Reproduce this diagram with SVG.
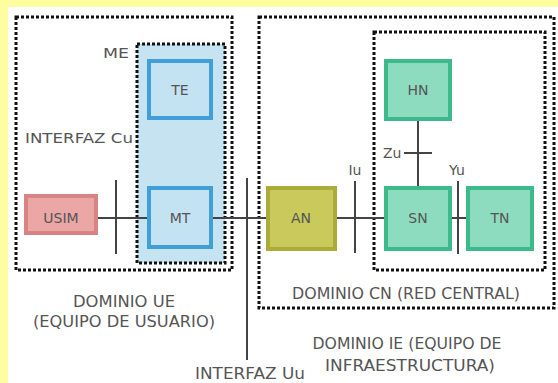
<svg xmlns="http://www.w3.org/2000/svg" width="558" height="383" viewBox="0 0 558 383">
<defs>
<style>
text{font-family:"DejaVu Sans","Liberation Sans",sans-serif;fill:#555;font-size:14px}
.big{font-size:15px}
.lbl{text-anchor:middle}
.dot{fill:none;stroke:#111;stroke-width:3;stroke-dasharray:3 2}
.blue{fill:#c3e2f2;stroke:#3f9fd6;stroke-width:4}
.red{fill:#eba6a6;stroke:#d98484;stroke-width:4}
.olive{fill:#c9c95c;stroke:#abab3a;stroke-width:4}
.teal{fill:#8edcc0;stroke:#3cba8c;stroke-width:4}
.ln{stroke:#444;stroke-width:2;fill:none}
</style>
</defs>
<rect x="0" y="0" width="558" height="383" fill="#fefea0"/>
<rect x="8" y="7" width="550" height="376" fill="#ffffff"/>
<g id="dominio-ue">
<rect class="dot" x="16" y="17" width="216" height="253"/>
<text class="lbl big" x="124" y="307" textLength="102" lengthAdjust="spacingAndGlyphs">DOMINIO UE</text>
<text class="lbl big" x="124" y="327" textLength="182" lengthAdjust="spacingAndGlyphs">(EQUIPO DE USUARIO)</text>
</g>
<g id="me">
<rect x="137" y="44" width="88" height="219" fill="#c5e3f1"/>
<rect class="dot" x="137" y="44" width="88" height="219"/>
<text x="129" y="58" text-anchor="end" textLength="26" lengthAdjust="spacingAndGlyphs">ME</text>
</g>
<g id="dominio-ie">
<rect class="dot" x="259" y="17" width="295" height="291"/>
<text class="lbl big" x="407" y="349" textLength="189" lengthAdjust="spacingAndGlyphs">DOMINIO IE (EQUIPO DE</text>
<text class="lbl big" x="410" y="371" textLength="170" lengthAdjust="spacingAndGlyphs">INFRAESTRUCTURA)</text>
</g>
<g id="dominio-cn">
<rect class="dot" x="374" y="32" width="171" height="238"/>
<text class="lbl big" x="406" y="299" textLength="228" lengthAdjust="spacingAndGlyphs">DOMINIO CN (RED CENTRAL)</text>
</g>
<g id="connectors">
<line class="ln" x1="97" y1="218" x2="148" y2="218"/>
<line class="ln" x1="212" y1="218" x2="267" y2="218"/>
<line class="ln" x1="336" y1="218" x2="385" y2="218"/>
<line class="ln" x1="451" y1="218" x2="467" y2="218"/>
<line class="ln" x1="418" y1="120" x2="418" y2="187"/>
<line class="ln" x1="116" y1="180" x2="116" y2="254"/>
<line class="ln" x1="247" y1="178" x2="247" y2="360"/>
<line class="ln" x1="355" y1="181" x2="355" y2="253"/>
<line class="ln" x1="458" y1="181" x2="458" y2="254"/>
<line class="ln" x1="404" y1="153" x2="432" y2="153"/>
</g>
<g id="interfaz-cu"><text x="25" y="143" textLength="108" lengthAdjust="spacingAndGlyphs">INTERFAZ Cu</text></g>
<g id="interfaz-uu"><text class="big" x="195" y="379" textLength="110" lengthAdjust="spacingAndGlyphs">INTERFAZ Uu</text></g>
<g id="iu"><text x="355" y="175" class="lbl">Iu</text></g>
<g id="zu"><text x="383" y="158">Zu</text></g>
<g id="yu"><text x="457" y="175" class="lbl">Yu</text></g>
<g id="te"><rect class="blue" x="149" y="61" width="62" height="57"/><text class="lbl" x="180" y="95">TE</text></g>
<g id="mt"><rect class="blue" x="149" y="188" width="62" height="59"/><text class="lbl" x="180" y="223">MT</text></g>
<g id="usim"><rect class="red" x="26" y="196" width="70" height="37"/><text class="lbl" x="61" y="223">USIM</text></g>
<g id="an"><rect class="olive" x="268" y="188" width="67" height="61"/><text class="lbl" x="301" y="223">AN</text></g>
<g id="hn"><rect class="teal" x="386" y="61" width="64" height="58"/><text class="lbl" x="418" y="95">HN</text></g>
<g id="sn"><rect class="teal" x="386" y="188" width="64" height="61"/><text class="lbl" x="418" y="223">SN</text></g>
<g id="tn"><rect class="teal" x="468" y="188" width="64" height="61"/><text class="lbl" x="500" y="223">TN</text></g>
</svg>
